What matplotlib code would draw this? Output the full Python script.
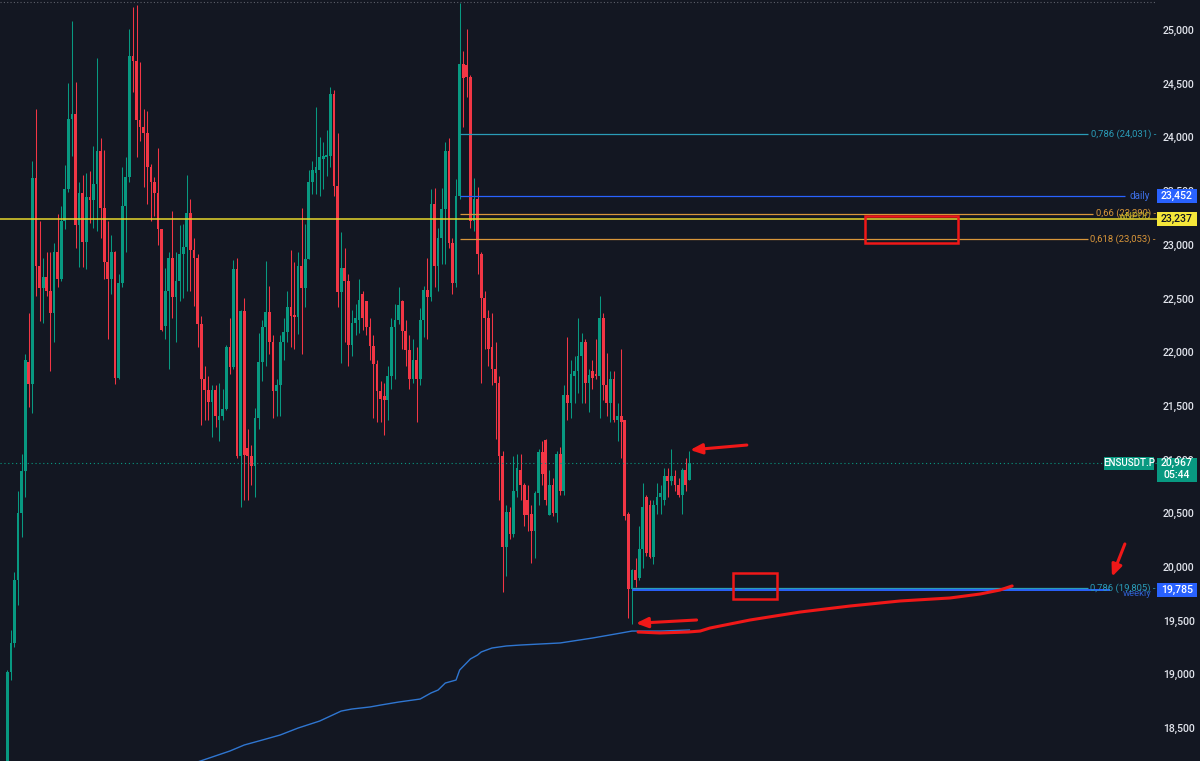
import numpy as np
import matplotlib
matplotlib.use('Agg')
import matplotlib.pyplot as plt
import matplotlib.transforms as mtransforms
from matplotlib.patches import Rectangle
from matplotlib.ticker import FuncFormatter, MultipleLocator

plt.rcParams['font.family'] = ['Roboto', 'DejaVu Sans']

# ENSUSDT.P candles (oldest first)
opens = [18.05, 19.02, 19.29, 19.88, 20.50, 20.89, 21.91, 21.70, 23.62, 22.80,
         22.60, 22.70, 22.57, 22.36, 22.93, 22.68, 23.22, 23.52, 24.17, 24.22,
         23.18, 23.48, 23.03, 23.44, 23.42, 23.57, 23.87, 23.34, 22.84, 22.68,
         22.93, 21.76, 22.64, 23.36, 23.63, 24.76, 24.71, 24.16, 24.10, 24.04,
         23.72, 23.58, 23.48, 23.15, 22.24, 22.57, 22.88, 22.51, 22.66, 22.91,
         22.98, 23.30, 22.95, 22.88, 22.26, 21.75, 21.65, 21.54, 21.65, 21.37,
         21.41, 21.47, 22.05, 21.86, 22.77, 21.03, 22.38, 21.11, 21.03, 20.94,
         21.39, 21.91, 22.23, 22.37, 22.09, 21.64, 21.69, 22.09, 22.19, 22.42,
         22.34, 22.33, 22.80, 22.60, 22.87, 23.58, 23.67, 23.70, 23.80, 23.82,
         23.83, 24.40, 23.55, 22.56, 22.78, 22.66, 22.07, 22.27, 22.30, 22.54,
         22.48, 22.23, 22.06, 21.89, 21.64, 21.59, 21.55, 21.78, 22.23, 22.30,
         22.48, 22.20, 22.02, 21.75, 21.93, 21.75, 22.30, 22.58, 22.51, 23.38,
         22.80, 23.06, 23.33, 23.87, 23.02, 22.64, 23.45, 24.68, 24.67, 24.56,
         23.22, 23.43, 22.91, 22.50, 22.32, 22.05, 21.84, 21.71, 21.03, 20.19,
         20.51, 20.31, 20.71, 20.90, 20.76, 20.62, 20.49, 20.33, 20.69, 21.07,
         21.18, 20.48, 20.76, 20.50, 21.05, 20.71, 21.60, 21.53, 21.78, 21.82,
         21.96, 22.09, 21.71, 21.82, 21.80, 21.78, 22.32, 21.69, 21.53, 21.75,
         21.37, 21.41, 21.37, 20.49, 19.79, 19.97, 19.90, 20.17, 20.65, 20.58,
         20.09, 20.58, 20.65, 20.62, 20.85, 20.80, 20.85, 20.76, 20.67, 20.90,
         20.81]
highs = [19.04, 19.41, 19.95, 20.71, 21.05, 21.98, 22.36, 23.78, 24.26, 23.22,
         22.88, 22.93, 22.93, 23.02, 23.29, 23.36, 23.74, 24.51, 25.08, 24.52,
         23.58, 23.65, 23.67, 23.69, 23.92, 24.74, 23.99, 23.88, 23.22, 23.09,
         22.94, 22.73, 23.72, 23.82, 25.01, 25.21, 25.23, 24.70, 24.26, 24.25,
         23.75, 23.63, 23.90, 23.15, 22.78, 22.93, 23.31, 22.93, 23.18, 23.19,
         23.65, 23.43, 23.06, 22.91, 22.34, 21.87, 21.78, 21.69, 21.69, 21.71,
         21.66, 22.07, 22.32, 22.86, 22.88, 22.39, 22.50, 21.28, 21.14, 21.48,
         22.18, 22.30, 22.85, 22.62, 22.16, 21.75, 22.16, 22.32, 22.57, 22.95,
         22.84, 22.93, 23.34, 23.19, 23.70, 23.78, 24.28, 24.00, 23.96, 24.07,
         24.47, 24.44, 24.04, 23.12, 22.97, 22.73, 22.39, 22.45, 22.68, 22.57,
         22.48, 22.32, 22.16, 21.93, 21.73, 21.71, 21.87, 22.32, 22.45, 22.61,
         22.49, 22.30, 22.16, 22.12, 22.05, 22.41, 22.62, 22.88, 23.52, 23.53,
         23.16, 23.53, 23.96, 23.99, 23.06, 23.61, 25.25, 24.80, 25.01, 24.58,
         23.62, 23.54, 22.93, 22.57, 22.39, 22.36, 22.09, 21.78, 21.08, 20.58,
         20.56, 21.03, 21.05, 21.05, 20.78, 20.76, 20.58, 20.71, 21.10, 21.17,
         21.19, 20.90, 20.83, 21.08, 21.12, 21.69, 22.14, 21.93, 21.96, 22.32,
         22.18, 22.12, 21.84, 21.93, 22.12, 22.52, 22.36, 21.99, 21.82, 21.82,
         21.53, 22.03, 21.37, 20.51, 19.98, 20.08, 20.38, 20.78, 20.67, 20.62,
         20.62, 20.78, 20.76, 20.92, 20.92, 21.10, 20.90, 20.83, 20.92, 21.01,
         21.08]
lows = [17.95, 18.95, 19.25, 19.65, 20.28, 20.65, 21.49, 21.43, 22.52, 22.29,
        22.27, 22.52, 21.82, 22.09, 22.61, 22.66, 23.15, 23.49, 23.83, 22.97,
        22.79, 22.79, 22.77, 23.20, 23.16, 23.13, 23.06, 22.68, 22.12, 22.54,
        21.70, 21.75, 22.61, 22.93, 23.58, 24.42, 23.82, 23.97, 23.54, 23.38,
        23.22, 23.27, 23.00, 22.20, 22.12, 21.84, 22.32, 22.09, 22.48, 22.50,
        22.57, 22.57, 22.43, 22.05, 21.32, 21.37, 21.37, 21.21, 21.30, 21.17,
        21.37, 21.46, 21.80, 21.84, 21.01, 20.56, 20.62, 20.62, 20.76, 20.65,
        21.28, 21.73, 21.87, 21.98, 21.39, 21.41, 21.41, 21.93, 22.09, 22.05,
        22.03, 22.17, 21.98, 22.42, 22.87, 23.47, 23.47, 23.45, 23.52, 23.64,
        23.72, 23.45, 22.42, 21.90, 22.09, 21.87, 21.96, 22.16, 22.18, 22.21,
        22.16, 21.93, 21.39, 21.35, 21.35, 21.23, 21.37, 21.66, 21.75, 22.26,
        22.03, 21.87, 21.66, 21.71, 21.35, 21.69, 22.14, 22.12, 22.48, 22.61,
        22.57, 22.82, 22.82, 22.97, 22.54, 22.61, 23.43, 24.10, 24.38, 23.16,
        23.13, 22.73, 21.71, 22.03, 21.87, 21.69, 21.19, 20.62, 19.77, 19.92,
        20.26, 20.28, 20.65, 20.62, 20.38, 20.33, 20.04, 20.08, 20.58, 20.76,
        20.58, 20.48, 20.47, 20.42, 20.67, 20.67, 21.37, 21.39, 21.53, 21.62,
        21.53, 21.53, 21.44, 21.66, 21.75, 21.39, 21.55, 21.41, 21.35, 21.35,
        21.17, 21.01, 20.44, 19.52, 19.47, 19.81, 19.88, 19.99, 20.10, 20.08,
        20.03, 20.49, 20.49, 20.58, 20.65, 20.76, 20.71, 20.65, 20.49, 20.71,
        20.81]
closes = [19.02, 19.29, 19.88, 20.50, 20.89, 21.93, 21.70, 23.62, 22.80, 22.60,
          22.70, 22.57, 22.36, 22.93, 22.68, 23.22, 23.52, 24.17, 24.22, 23.18,
          23.48, 23.03, 23.44, 23.42, 23.57, 23.87, 23.34, 22.84, 22.68, 22.93,
          21.76, 22.64, 23.36, 23.63, 24.76, 24.71, 24.16, 24.10, 24.04, 23.72,
          23.58, 23.48, 23.15, 22.21, 22.57, 22.88, 22.51, 22.66, 22.91, 22.98,
          23.30, 22.95, 22.88, 22.26, 21.75, 21.65, 21.54, 21.65, 21.41, 21.41,
          21.47, 22.05, 21.86, 22.77, 21.03, 22.38, 21.04, 21.03, 20.94, 21.39,
          21.91, 22.23, 22.37, 22.09, 21.64, 21.69, 22.09, 22.19, 22.42, 22.34,
          22.33, 22.80, 22.60, 22.87, 23.58, 23.70, 23.72, 23.82, 23.83, 23.84,
          24.40, 23.55, 22.56, 22.78, 22.66, 22.07, 22.27, 22.32, 22.49, 22.32,
          22.23, 22.06, 21.89, 21.64, 21.56, 21.55, 21.78, 22.23, 22.30, 22.44,
          22.20, 22.02, 21.75, 21.93, 21.75, 22.30, 22.58, 22.51, 23.38, 22.80,
          23.06, 23.33, 23.87, 23.02, 22.64, 23.45, 24.68, 24.55, 24.56, 23.22,
          23.43, 22.91, 22.50, 22.32, 22.03, 21.84, 21.71, 21.03, 20.19, 20.51,
          20.31, 20.71, 20.92, 20.76, 20.48, 20.48, 20.33, 20.69, 21.07, 20.87,
          20.62, 20.76, 20.50, 21.05, 20.71, 21.60, 21.53, 21.80, 21.82, 21.96,
          22.09, 21.71, 21.79, 21.76, 21.78, 22.32, 21.69, 21.53, 21.75, 21.37,
          21.41, 21.35, 20.47, 19.79, 19.97, 19.88, 20.17, 20.56, 20.13, 20.09,
          20.58, 20.65, 20.69, 20.85, 20.80, 20.85, 20.76, 20.67, 20.90, 20.76,
          20.967]

# anchored vwap (candle index, value)
vwap_idx = [50, 62, 66, 71, 76, 81, 87, 93, 96, 101, 104, 109, 115, 118, 120,
            122, 125, 126, 129, 131, 132, 135, 139, 143, 154, 163, 171, 174, 182, 190]
vwap_val = [18.15, 18.286, 18.342, 18.388, 18.435, 18.500, 18.565, 18.658, 18.677,
            18.696, 18.714, 18.742, 18.770, 18.826, 18.854, 18.919, 18.947, 19.040,
            19.143, 19.180, 19.208, 19.245, 19.264, 19.273, 19.292, 19.338, 19.385,
            19.403, 19.403, 19.413]

# levels
fib_top = [24.031, 23.290, 23.053]
fib_top_names = ['0,786', '0,66', '0,618']
daily_level = 23.452
wnpoc_level = 23.237
fib_low = 19.805
weekly_level = 19.785
last_price = 20.967
countdown = '05:44'
symbol = 'ENSUSDT.P'

# hand drawn red path (candle index, price)
pen_idx = [175.7, 181.8, 189.6, 193.0, 195.7, 206.9, 220.8, 234.7, 248.7, 262.6, 271.0, 276.5, 279.9]
pen_val = [19.394, 19.385, 19.394, 19.403, 19.431, 19.506, 19.580, 19.636, 19.683, 19.711, 19.748, 19.785, 19.823]

BG = '#131722'
GREEN = '#089981'
RED = '#f23645'
PEN = '#f01818'
TEAL = '#2a9cb8'
ORANGE = '#d9963a'
BLUE = '#2962ff'
YELLOW = '#e6d62c'
W, H = 1200, 761
PLOT_W = 1157


def fmt(v):
    return f"{v:.3f}".replace('.', ',')


def px_to_idx(x):
    return (x - 7.3) / 3.59


fig = plt.figure(figsize=(W / 100, H / 100), dpi=100, facecolor=BG)
ax = fig.add_axes([0, 0, PLOT_W / W, 1])
ax.set_facecolor(BG)
for s in ax.spines.values():
    s.set_visible(False)

idx = np.arange(len(closes))
o = np.array(opens)
c = np.array(closes)
cols = np.where(c >= o, GREEN, RED)
ax.vlines(idx, lows, highs, colors=cols, lw=0.75, zorder=2)
ax.bar(idx, np.maximum(np.abs(c - o), 0.012), bottom=np.minimum(o, c), width=0.76,
       color=cols, linewidth=0, zorder=3)

ax.plot(vwap_idx, vwap_val, color='#2f76d1', lw=1.0, zorder=3)

# horizontal levels
start_top = 126
start_low = 174
ax.hlines(fib_top[0], start_top, px_to_idx(1088), color=TEAL, lw=0.9, zorder=4)
ax.hlines(fib_top[1], start_top, px_to_idx(1093), color=ORANGE, lw=0.9, zorder=4)
ax.hlines(fib_top[2], start_top, px_to_idx(1088), color=ORANGE, lw=0.9, zorder=4)
ax.hlines(daily_level, start_top, px_to_idx(1125), color=BLUE, lw=0.9, zorder=4)
ax.axhline(wnpoc_level, color=YELLOW, lw=1.1, zorder=4)
ax.hlines(weekly_level, start_low, px_to_idx(1110), color=BLUE, lw=1.4, zorder=4)
ax.hlines(fib_low, start_low, px_to_idx(1088), color=TEAL, lw=0.9, zorder=4)
ax.axhline(last_price, color=GREEN, lw=0.8, ls=(0, (1, 2.5)), zorder=4)
ax.plot([0, 1], [0.997, 0.997], transform=ax.transAxes, color='#5d606b', lw=0.8,
        ls=(0, (1, 2)), zorder=4)

# line labels
lab = mtransforms.blended_transform_factory(ax.transAxes, ax.transData)
xr = 1156 / PLOT_W
lfs = 6.8
ax.text(xr, fib_top[0], f"{fib_top_names[0]} ({fmt(fib_top[0])}) -", transform=lab,
        ha='right', va='center', color=TEAL, fontsize=lfs, zorder=5)
ax.text(xr, fib_top[1], f"{fib_top_names[1]} ({fmt(fib_top[1])}) -", transform=lab,
        ha='right', va='center', color=ORANGE, fontsize=lfs, zorder=5)
ax.text(1151 / PLOT_W, wnpoc_level + 0.03, 'wNPOC', transform=lab, ha='right',
        va='center', color='#c8b82a', fontsize=lfs, zorder=6)
ax.text(xr, fib_top[2], f"{fib_top_names[2]} ({fmt(fib_top[2])}) -", transform=lab,
        ha='right', va='center', color=ORANGE, fontsize=lfs, zorder=5)
ax.text(1150 / PLOT_W, daily_level, 'daily', transform=lab, ha='right', va='center',
        color='#3d6fe6', fontsize=lfs + 0.3, zorder=5)
ax.text(1152 / PLOT_W, weekly_level - 0.03, 'weekly', transform=lab, ha='right',
        va='center', color='#2f5fd0', fontsize=lfs, zorder=5)
ax.text(xr, fib_low, f"0,786 ({fmt(fib_low)}) -", transform=lab, ha='right',
        va='center', color=TEAL, fontsize=lfs, zorder=6)


# price scale tags
def tag(y, text, face, fg, h=0.13, top=None, sub=None):
    y0 = y - h / 2 if top is None else top - h
    ax.add_patch(Rectangle((1.0, y0), 40 / PLOT_W, h, transform=lab, facecolor=face,
                           edgecolor='none', clip_on=False, zorder=8))
    ax.text(1.0 + 20 / PLOT_W, y, text, transform=lab, ha='center', va='center',
            color=fg, fontsize=7.6, fontweight='medium', zorder=9, clip_on=False)
    if sub:
        ax.text(1.0 + 20 / PLOT_W, y - 0.115, sub, transform=lab, ha='center',
                va='center', color=fg, fontsize=7.6, fontweight='medium', zorder=9,
                clip_on=False)


tag(daily_level, fmt(daily_level), BLUE, 'white')
tag(wnpoc_level, fmt(wnpoc_level), '#f5e73a', '#131722')
tag(weekly_level, fmt(weekly_level), BLUE, 'white')
tag(last_price, fmt(last_price), GREEN, 'white', h=0.225, top=last_price + 0.05,
    sub=countdown)
ax.add_patch(Rectangle((1104 / PLOT_W, last_price - 0.062), 50 / PLOT_W, 0.118,
                       transform=lab, facecolor=GREEN, edgecolor='none', zorder=8))
ax.text(1129 / PLOT_W, last_price, symbol, transform=lab, ha='center', va='center',
        color='white', fontsize=7.0, fontweight='medium', zorder=9)

# red hand annotations
ax.plot(pen_idx, pen_val, color=PEN, lw=2.2, solid_capstyle='round', zorder=7)
ax.add_patch(Rectangle((238.9, 23.017), 25.9, 0.251, fill=False, edgecolor=PEN,
                       lw=1.8, zorder=7))
ax.add_patch(Rectangle((202.1, 19.702), 12.2, 0.244, fill=False, edgecolor=PEN,
                       lw=1.8, zorder=7))
arrow = dict(arrowstyle='-|>,head_length=0.7,head_width=0.3', color=PEN, lw=2.2,
             shrinkA=0, shrinkB=0)
ax.annotate('', xy=(190.2, 21.089), xytext=(206.0, 21.135), arrowprops=arrow, zorder=7)
ax.annotate('', xy=(175.1, 19.475), xytext=(192.0, 19.506), arrowprops=arrow, zorder=7)
ax.annotate('', xy=(307.7, 19.909), xytext=(311.3, 20.214), arrowprops=arrow, zorder=7)

ax.set_xlim(px_to_idx(0), px_to_idx(PLOT_W))
ax.set_ylim(18.193, 25.279)
ax.xaxis.set_visible(False)
ax.yaxis.tick_right()
ax.yaxis.set_major_locator(MultipleLocator(0.5))
ax.yaxis.set_major_formatter(FuncFormatter(lambda v, p: fmt(v)))
ax.tick_params(axis='y', length=0, pad=4.3, labelsize=7.6, labelcolor='#e0e3eb')
for t in ax.get_yticklabels():
    t.set_fontweight('medium')

fig.savefig('out.png', dpi=100, facecolor=BG)
